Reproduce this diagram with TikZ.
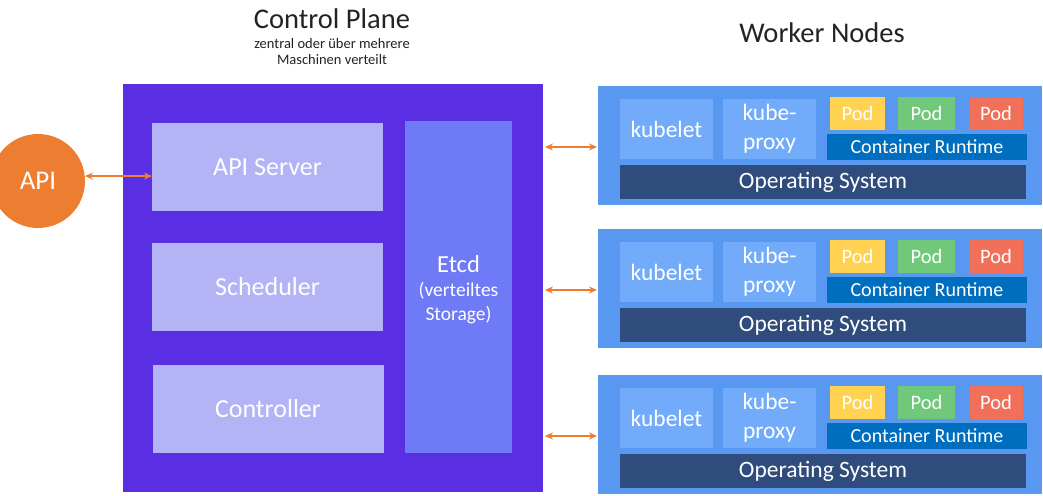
\documentclass[tikz,border=0pt]{standalone}
\usepackage{fontspec}
\setmainfont{Carlito}
\usetikzlibrary{arrows.meta}
\definecolor{cpbg}{RGB}{90,46,226}
\definecolor{cplight}{RGB}{179,179,246}
\definecolor{etcdc}{RGB}{111,123,246}
\definecolor{wbg}{RGB}{88,152,240}
\definecolor{wlight}{RGB}{113,171,250}
\definecolor{podY}{RGB}{255,210,82}
\definecolor{podG}{RGB}{112,200,122}
\definecolor{podR}{RGB}{240,112,90}
\definecolor{crc}{RGB}{0,110,190}
\definecolor{osc}{RGB}{47,76,124}
\definecolor{orng}{RGB}{237,125,49}
\definecolor{titlec}{RGB}{35,35,35}
\tikzset{
  box/.style={rectangle, inner sep=0pt, outer sep=0pt, text=white, align=center},
  arr/.style={draw=orng, line width=1.3pt, {Stealth[length=8pt,width=7pt]}-{Stealth[length=8pt,width=7pt]}},
  ttl/.style={text=titlec, inner sep=0pt, align=center}
}
\begin{document}
\begin{tikzpicture}[x=1pt,y=-1pt]
\useasboundingbox[fill=white] (0,0) rectangle (1043,495);
% titles
\node[ttl, font=\fontsize{28.5}{32}\selectfont] (cpt) at (332,19) {Control Plane};
\node[ttl, font=\fontsize{14.5}{16}\selectfont] (cps) at (332,52) {zentral oder über mehrere\\Maschinen verteilt};
\node[ttl, font=\fontsize{28.5}{32}\selectfont] (wnt) at (822,33) {Worker Nodes};
% control plane
\node[box, fill=cpbg, minimum width=420pt, minimum height=408pt] (cp) at (333,288) {};
\node[box, fill=cplight, minimum width=231pt, minimum height=88pt, font=\fontsize{26}{30}\selectfont] (apis) at (267.5,167) {API Server};
\node[box, fill=cplight, minimum width=231pt, minimum height=88pt, font=\fontsize{26}{30}\selectfont] (sched) at (267.5,287) {Scheduler};
\node[box, fill=cplight, minimum width=231pt, minimum height=88pt, font=\fontsize{26}{30}\selectfont] (ctrl) at (268,409) {Controller};
\node[box, fill=etcdc, minimum width=107pt, minimum height=332pt] (etcd) at (458.5,287) {};
\node[box, font=\fontsize{19.5}{24}\selectfont] (etcdt) at (458.5,290) {{\fontsize{24.5}{27}\selectfont Etcd}\\(verteiltes\\Storage)};
% API
\node[circle, fill=orng, minimum size=94pt, inner sep=0pt, text=white, font=\fontsize{27}{30}\selectfont] (api) at (38,181) {API};
\draw[arr] (api.6) -- (apis.west |- api.6);
% workers
\foreach \i/\o in {1/0,2/143,3/289}{
  \node[box, fill=wbg, minimum width=444pt, minimum height=119pt] (w\i) at (820,145+\o) {};
  \node[box, fill=wlight, minimum width=93pt, minimum height=60pt, font=\fontsize{23.5}{27}\selectfont] (kl\i) at (666.5,129+\o) {kubelet};
  \node[box, fill=wlight, minimum width=93pt, minimum height=60pt, font=\fontsize{23.5}{29}\selectfont] (kp\i) at (769.5,129+\o) {kube-\\proxy};
  \node[box, fill=podY, minimum width=55pt, minimum height=33pt, font=\fontsize{20.5}{23}\selectfont] (py\i) at (857.5,113+\o) {Pod};
  \node[box, fill=podG, minimum width=57pt, minimum height=33pt, font=\fontsize{20.5}{23}\selectfont] (pg\i) at (926.5,113+\o) {Pod};
  \node[box, fill=podR, minimum width=53pt, minimum height=33pt, font=\fontsize{20.5}{23}\selectfont] (pr\i) at (996,113+\o) {Pod};
  \node[box, fill=crc, minimum width=200pt, minimum height=26pt, font=\fontsize{20}{23}\selectfont] (cr\i) at (927,146.5+\o) {Container Runtime};
  \node[box, fill=osc, minimum width=406pt, minimum height=34pt, font=\fontsize{23.5}{27}\selectfont] (os\i) at (823,182+\o) {Operating System};
  \draw[arr, shorten <=2pt, shorten >=1pt] (cp.east |- 0,147+\o) -- (w\i.west |- 0,147+\o);
}
\end{tikzpicture}
\end{document}
